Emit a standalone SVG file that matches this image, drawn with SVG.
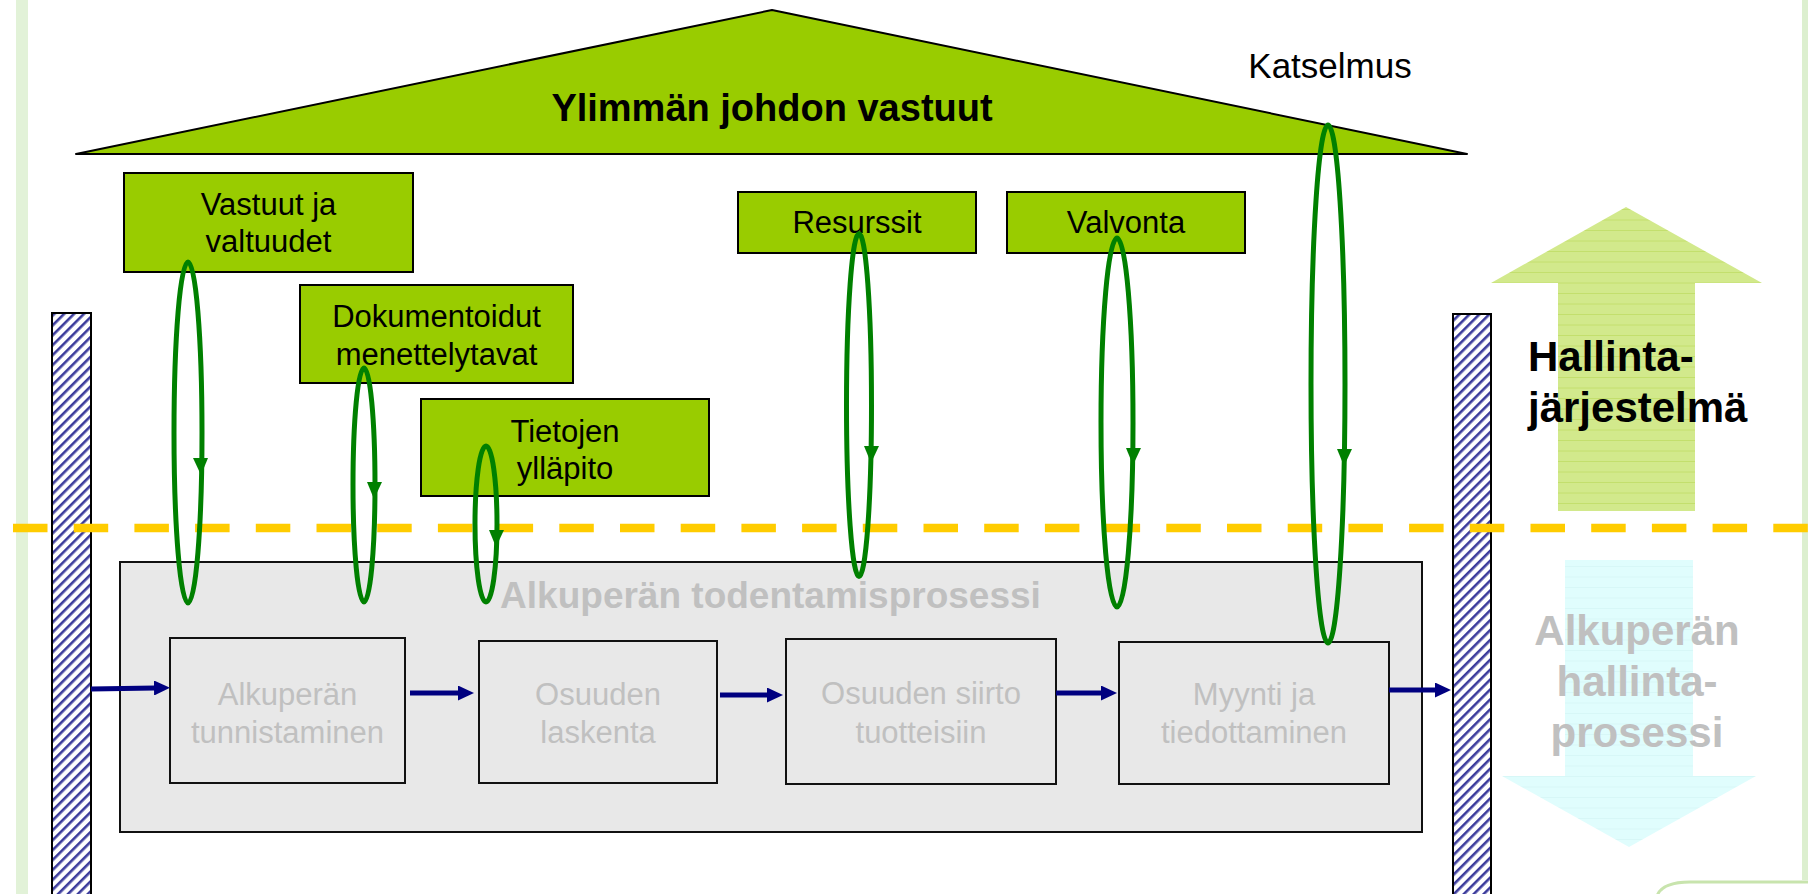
<svg xmlns="http://www.w3.org/2000/svg" width="1808" height="894" viewBox="0 0 1808 894">
  <style>
    .gbox { fill: #99cc00; stroke: #000; stroke-width: 2; }
    .pbox { fill: #e8e8e8; stroke: #111; stroke-width: 2; }
    .t { font-family: "Liberation Sans", Arial, sans-serif; font-size: 31px; fill: #000; text-anchor: middle; }
    .pt { font-family: "Liberation Sans", Arial, sans-serif; font-size: 31px; fill: #c0c0c0; text-anchor: middle; }
    .big { font-family: "Liberation Sans", Arial, sans-serif; font-size: 42px; font-weight: bold; }
    .loop { fill: none; stroke: #008000; stroke-width: 5; }
    .loophead { fill: #008000; }
    .flow { stroke: #000080; stroke-width: 5; fill: none; marker-end: url(#navyhead); }
    .bar { fill: url(#hatch); stroke: #000; stroke-width: 2; }
  </style>
  <defs>
    <pattern id="hatch" patternUnits="userSpaceOnUse" width="7" height="7" patternTransform="rotate(45)">
      <rect width="7" height="7" fill="#ffffff"/>
      <rect width="2.6" height="7" fill="#3c3c9c"/>
    </pattern>
    <pattern id="greenlines" patternUnits="userSpaceOnUse" width="20" height="10.5">
      <rect width="20" height="10.5" fill="#d2e98c"/>
      <rect y="9.7" width="20" height="0.8" fill="#c0de66"/>
    </pattern>
    <pattern id="bluelines" patternUnits="userSpaceOnUse" width="20" height="10.5">
      <rect width="20" height="10.5" fill="#e0fdfd"/>
      <rect y="9.7" width="20" height="0.8" fill="#d6f7f7"/>
    </pattern>
    <marker id="navyhead" viewBox="0 0 16 15" refX="1" refY="7.5" markerWidth="16" markerHeight="15" markerUnits="userSpaceOnUse" orient="auto">
      <path d="M0,0 L16,7.5 L0,15 z" fill="#000080"/>
    </marker>
  </defs>

  <rect width="1808" height="894" fill="#ffffff"/>

  <!-- frame -->
  <g id="frame">
    <rect x="16" y="0" width="12" height="894" fill="#e2f2d8"/>
    <rect x="1802" y="0" width="6" height="880" fill="#dcefcf"/>
    <path d="M1657,896 Q1662,882 1690,882 L1808,882" fill="none" stroke="#c8e4ad" stroke-width="3"/>
  </g>

  <!-- roof -->
  <g id="roof">
    <polygon points="76,154 772,10 1467,154" fill="#99cc00" stroke="#000" stroke-width="2" stroke-linejoin="round"/>
    <text x="772" y="121" font-family="'Liberation Sans', Arial, sans-serif" font-size="38" font-weight="bold" text-anchor="middle" fill="#000">Ylimmän johdon vastuut</text>
  </g>

  <g id="katselmus">
    <text x="1330" y="78" font-family="'Liberation Sans', Arial, sans-serif" font-size="35" text-anchor="middle" fill="#000">Katselmus</text>
  </g>

  <!-- big arrows -->
  <g id="hallinta">
    <polygon points="1626,207 1762,283 1695,283 1695,511 1558,511 1558,283 1491,283" fill="url(#greenlines)"/>
    <text class="big" x="1528" y="371" fill="#000">Hallinta-</text>
    <text class="big" x="1528" y="422" fill="#000">järjestelmä</text>
  </g>
  <g id="hallintaprosessi">
    <polygon points="1565,560 1693,560 1693,776 1756,776 1629,847 1502,776 1565,776" fill="url(#bluelines)"/>
    <text class="big" x="1637" y="645" fill="#c0c0c0" text-anchor="middle">Alkuperän</text>
    <text class="big" x="1637" y="696" fill="#c0c0c0" text-anchor="middle">hallinta-</text>
    <text class="big" x="1637" y="747" fill="#c0c0c0" text-anchor="middle">prosessi</text>
  </g>

  <!-- green boxes -->
  <g id="vastuut">
    <rect class="gbox" x="124" y="173" width="289" height="99"/>
    <text class="t" x="268.5" y="215">Vastuut ja</text>
    <text class="t" x="268.5" y="252">valtuudet</text>
  </g>
  <g id="dokumentoidut">
    <rect class="gbox" x="300" y="285" width="273" height="98"/>
    <text class="t" x="436.5" y="327">Dokumentoidut</text>
    <text class="t" x="436.5" y="365">menettelytavat</text>
  </g>
  <g id="tietojen">
    <rect class="gbox" x="421" y="399" width="288" height="97"/>
    <text class="t" x="565" y="442">Tietojen</text>
    <text class="t" x="565" y="479">ylläpito</text>
  </g>
  <g id="resurssit">
    <rect class="gbox" x="738" y="192" width="238" height="61"/>
    <text class="t" x="857" y="233">Resurssit</text>
  </g>
  <g id="valvonta">
    <rect class="gbox" x="1007" y="192" width="238" height="61"/>
    <text class="t" x="1126" y="233">Valvonta</text>
  </g>

  <!-- process container -->
  <g id="todentamisprosessi">
    <rect class="pbox" x="120" y="562" width="1302" height="270"/>
    <text x="770.5" y="608" font-family="'Liberation Sans', Arial, sans-serif" font-size="37" font-weight="bold" text-anchor="middle" fill="#c0c0c0">Alkuperän todentamisprosessi</text>
  </g>
  <g id="tunnistaminen">
    <rect class="pbox" x="170" y="638" width="235" height="145"/>
    <text class="pt" x="287.5" y="705">Alkuperän</text>
    <text class="pt" x="287.5" y="743">tunnistaminen</text>
  </g>
  <g id="laskenta">
    <rect class="pbox" x="479" y="641" width="238" height="142"/>
    <text class="pt" x="598" y="705">Osuuden</text>
    <text class="pt" x="598" y="743">laskenta</text>
  </g>
  <g id="siirto">
    <rect class="pbox" x="786" y="639" width="270" height="145"/>
    <text class="pt" x="921" y="704">Osuuden siirto</text>
    <text class="pt" x="921" y="743">tuotteisiin</text>
  </g>
  <g id="myynti">
    <rect class="pbox" x="1119" y="642" width="270" height="142"/>
    <text class="pt" x="1254" y="705">Myynti ja</text>
    <text class="pt" x="1254" y="743">tiedottaminen</text>
  </g>

  <!-- hatched side bars -->
  <g id="leftbar">
    <rect class="bar" x="52" y="313" width="39" height="590"/>
  </g>
  <g id="rightbar">
    <rect class="bar" x="1453" y="314" width="38" height="590"/>
  </g>

  <!-- boundary dashed line -->
  <g id="boundary">
    <line x1="13" y1="528" x2="1808" y2="528" stroke="#ffcc00" stroke-width="8.5" stroke-dasharray="34.5 26.2"/>
  </g>

  <!-- connectors -->
  <g id="connectors">
    <line class="flow" x1="91" y1="689" x2="155" y2="688"/>
    <line class="flow" x1="410" y1="693" x2="459" y2="693"/>
    <line class="flow" x1="720" y1="695" x2="768" y2="695"/>
    <line class="flow" x1="1056" y1="693" x2="1102" y2="693"/>
    <line class="flow" x1="1389" y1="690" x2="1436" y2="690"/>

    <ellipse class="loop" cx="188" cy="432.5" rx="14" ry="170.5"/>
    <polygon class="loophead" points="193,458 208,458 201,475"/>
    <ellipse class="loop" cx="364" cy="485" rx="11" ry="117"/>
    <polygon class="loophead" points="367,482 382,482 374,499"/>
    <ellipse class="loop" cx="486" cy="524" rx="11" ry="78"/>
    <polygon class="loophead" points="489,530 504,530 496,547"/>
    <ellipse class="loop" cx="859" cy="405" rx="12.5" ry="171.5"/>
    <polygon class="loophead" points="864,446 879,446 871,463"/>
    <ellipse class="loop" cx="1117" cy="422.5" rx="16" ry="184.5"/>
    <polygon class="loophead" points="1126,448 1141,448 1133,465"/>
    <ellipse class="loop" cx="1328" cy="384" rx="17" ry="259"/>
    <polygon class="loophead" points="1337,449 1352,449 1344,466"/>
  </g>
</svg>
